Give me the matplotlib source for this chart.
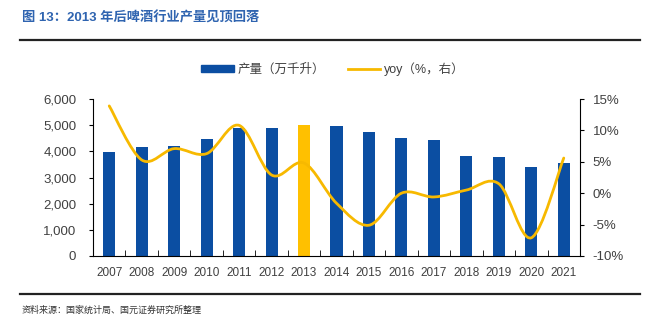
import numpy as np
import matplotlib.pyplot as plt
from matplotlib.path import Path
from matplotlib.patches import PathPatch
from matplotlib.lines import Line2D
from matplotlib.ticker import FuncFormatter

plt.rcParams['font.family'] = ['Liberation Sans', 'Noto Sans CJK SC', 'DejaVu Sans']

years = ['2007', '2008', '2009', '2010', '2011', '2012', '2013', '2014',
         '2015', '2016', '2017', '2018', '2019', '2020', '2021']
output = [3970, 4160, 4200, 4490, 4890, 4900, 5000, 4950,
          4720, 4510, 4420, 3810, 3780, 3420, 3570]
yoy = [13.9, 5.3, 7.1, 6.3, 10.8, 2.9, 4.8, -1.6,
       -5.1, 0.0, -0.6, 0.5, 1.5, -7.1, 5.6]

blue = '#0B4EA2'
gold = '#FFC000'
line_gold = '#F7B900'
txt = '#404040'

fig = plt.figure(figsize=(6.52, 3.25), dpi=100)
ax = fig.add_axes([93/652, 1-256/325, (580-93)/652, (256-99)/325])
x = np.arange(len(years))
colors = [gold if y == '2013' else blue for y in years]
ax.bar(x, output, width=0.37, color=colors, zorder=2)
ax.set_xlim(-0.5, len(years) - 0.5)
ax.set_ylim(0, 6000)
ax.set_yticks(range(0, 6001, 1000))
ax.yaxis.set_major_formatter(FuncFormatter(lambda v, p: f'{int(v):,}'))
ax.set_xticks(x)
ax.set_xticklabels(years)
ax.set_xticks(np.arange(-0.5, len(years), 1), minor=True)
ax.tick_params(axis='x', which='major', length=0, labelsize=8.5, colors=txt, pad=8)
ax.tick_params(axis='x', which='minor', length=4, direction='in', color='black')
ax.tick_params(axis='y', length=3, direction='out', labelsize=9.5, colors=txt, pad=9)
ax.tick_params(axis='y', color='black')
for s in ['top', 'right']:
    ax.spines[s].set_visible(False)
ax.spines['left'].set_color('black')
ax.spines['bottom'].set_color('black')

ax2 = ax.twinx()
ax2.set_ylim(-10, 15)
ax2.set_yticks(range(-10, 16, 5))
ax2.yaxis.set_major_formatter(FuncFormatter(lambda v, p: f'{int(v)}%'))
ax2.tick_params(axis='y', length=3, direction='out', labelsize=9.5, colors=txt, pad=6)
ax2.tick_params(axis='y', color='black')
for s in ['top', 'left', 'bottom']:
    ax2.spines[s].set_visible(False)
ax2.spines['right'].set_color('black')

# smoothed line (Catmull-Rom as bezier path, like Excel smoothing)
pts = np.column_stack([x, yoy]).astype(float)
verts = [tuple(pts[0])]
codes = [Path.MOVETO]
n = len(pts)
for i in range(n - 1):
    p0 = pts[i - 1] if i > 0 else pts[i]
    p1, p2 = pts[i], pts[i + 1]
    p3 = pts[i + 2] if i + 2 < n else pts[i + 1]
    c1 = p1 + (p2 - p0) / 6
    c2 = p2 - (p3 - p1) / 6
    verts += [tuple(c1), tuple(c2), tuple(p2)]
    codes += [Path.CURVE4] * 3
ax2.add_patch(PathPatch(Path(verts, codes), fill=False, edgecolor=line_gold,
                        lw=2, zorder=3, capstyle='round'))

handles = [plt.Rectangle((0, 0), 1, 1, color=blue),
           Line2D([], [], color=line_gold, lw=2)]
fig.legend(handles, ['产量（万千升）', 'yoy（%，右）'], loc='center',
           bbox_to_anchor=(333/652, 1-69/325), ncol=2, frameon=False,
           fontsize=9, handlelength=2.6, handleheight=0.5, columnspacing=1.8,
           handletextpad=0.3, labelcolor=txt)

fig.text(22/652, 1-18/325, '图 13：2013 年后啤酒行业产量见顶回落', fontsize=9.5,
         fontweight='bold', color='#2F64B0', va='center', ha='left')
fig.add_artist(Line2D([20/652, 640/652], [1-40/325, 1-40/325], color='#222222', lw=1.6))
fig.add_artist(Line2D([20/652, 640/652], [1-294/325, 1-294/325], color='#222222', lw=1.6))
fig.text(22/652, 1-310/325, '资料来源：国家统计局、国元证券研究所整理', fontsize=6.5,
         color='#333333', va='center', ha='left')

fig.savefig('out.png', dpi=100)
